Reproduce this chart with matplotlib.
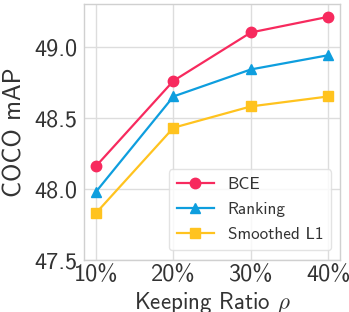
import matplotlib
matplotlib.use("Agg")
import matplotlib.pyplot as plt

plt.rcParams['font.family'] = ['cmss10', 'DejaVu Sans']
plt.rcParams['mathtext.fontset'] = 'cm'
plt.rcParams['axes.unicode_minus'] = False

ratios = [10, 20, 30, 40]
tick_labels = ['10%', '20%', '30%', '40%']
bce = [48.16, 48.76, 49.10, 49.21]
ranking = [47.98, 48.65, 48.84, 48.94]
smoothed = [47.83, 48.43, 48.58, 48.65]
yticks = [47.5, 48.0, 48.5, 49.0]

fig = plt.figure(figsize=(3.49, 3.12), dpi=100)
ax = fig.add_axes([84/349, 1-260/312, (340-84)/349, (260-4)/312])

ax.plot(ratios, bce, color='#F72A5E', marker='o', markersize=7.5, linewidth=1.6, label='BCE')
ax.plot(ratios, ranking, color='#0E9EDE', marker='^', markersize=7.5, linewidth=1.6, label='Ranking')
ax.plot(ratios, smoothed, color='#FFC31F', marker='s', markersize=7.5, linewidth=1.6, label='Smoothed L1')

ax.set_xlim(8.45, 41.5)
ax.set_ylim(47.5, 49.3)
ax.set_xticks(ratios)
ax.set_xticklabels(tick_labels)
ax.set_yticks(yticks)
ax.set_yticklabels([f'{v:.1f}' for v in yticks])
ax.tick_params(axis='both', labelsize=17.5, length=0, colors='#333333')
ax.tick_params(axis='x', pad=3)
ax.tick_params(axis='y', pad=5)
ax.grid(True, color='#dddddd', linewidth=1.0)
ax.set_axisbelow(True)
for s in ax.spines.values():
    s.set_color('#d0d0d0')
    s.set_linewidth(1.0)

ax.set_ylabel('COCO mAP', fontsize=18, color='#333333', labelpad=5)
ax.set_xlabel(r'Keeping Ratio $\rho$', fontsize=16.5, color='#333333', labelpad=3)

leg = ax.legend(loc='lower right', fontsize=12.3, frameon=True, handlelength=2.2,
                borderpad=0.45, labelspacing=0.6, borderaxespad=0,
                bbox_to_anchor=(0.965, 0.039))
leg.get_frame().set_edgecolor('#dddddd')
for t in leg.get_texts():
    t.set_color('#333333')

fig.savefig('out.png', dpi=100)
